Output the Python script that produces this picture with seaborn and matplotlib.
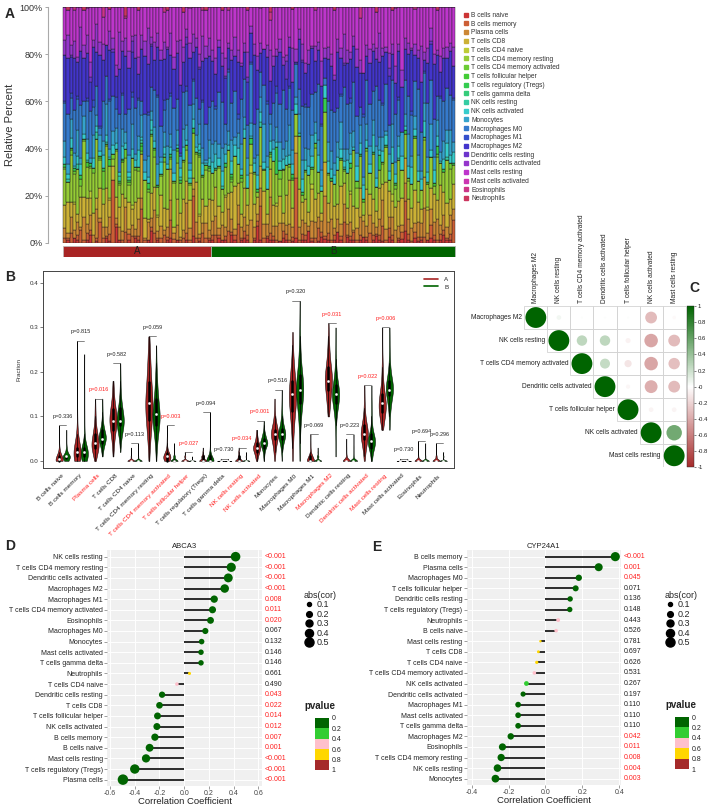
import numpy as np
import pandas as pd
import matplotlib.pyplot as plt
import matplotlib.colors as mcolors
import matplotlib.transforms as mtrans
from matplotlib.lines import Line2D
from matplotlib.patches import Rectangle
from matplotlib.cm import ScalarMappable
import seaborn as sns

# ---------------------------------------------------------------- data
cell_types = [
    "B cells naive", "B cells memory", "Plasma cells", "T cells CD8",
    "T cells CD4 naive", "T cells CD4 memory resting", "T cells CD4 memory activated",
    "T cells follicular helper", "T cells regulatory (Tregs)", "T cells gamma delta",
    "NK cells resting", "NK cells activated", "Monocytes", "Macrophages M0",
    "Macrophages M1", "Macrophages M2", "Dendritic cells resting",
    "Dendritic cells activated", "Mast cells resting", "Mast cells activated",
    "Eosinophils", "Neutrophils",
]
group_names = ["A", "B"]
group_sizes = [46, 76]

# immune cell fractions (%) per sample; first 46 samples group A, then 76 samples group B
b_naive = [0, 1, 0, 2, 1, 0, 0, 1, 3, 0, 1, 0, 0, 2, 1, 0, 8, 1, 0, 0, 1, 0, 2, 1, 0, 0, 1, 5, 0, 1, 0, 0, 1, 2, 0, 1, 0, 0, 1, 0, 3, 0, 1, 0, 0, 1,
           1, 0, 2, 1, 1, 0, 3, 1, 0, 1, 2, 1, 0, 1, 7, 1, 0, 2, 1, 1, 0, 1, 3, 1, 0, 1, 2, 0, 1, 1, 4, 1, 0, 1, 2, 1, 1, 0, 1, 5,
           1, 0, 2, 1, 1, 0, 1, 2, 1, 0, 1, 3, 1, 1, 0, 2, 1, 0, 1, 1, 6, 1, 0, 2, 1, 1, 0, 1, 2, 1, 0, 1, 3, 1, 1, 0]
b_memory = [2, 1, 4, 0, 2, 6, 1, 3, 2, 0, 1, 9, 2, 1, 3, 27, 2, 0, 1, 5, 2, 3, 1, 2, 12, 1, 0, 2, 4, 1, 2, 3, 1, 7, 2, 0, 1, 2, 3, 1, 18, 2, 1, 4, 2, 1,
            2, 3, 1, 0, 2, 5, 1, 2, 8, 1, 3, 2, 0, 1, 2, 14, 2, 1, 3, 2, 1, 0, 4, 2, 1, 2, 24, 1, 3, 2, 0, 1, 2, 6, 2, 1, 3, 1, 2, 0,
            2, 10, 1, 2, 3, 1, 2, 0, 1, 4, 2, 1, 2, 7, 1, 3, 2, 0, 1, 2, 16, 2, 1, 3, 2, 1, 2, 0, 5, 2, 1, 3, 2, 1, 2, 11]
plasma = [4, 2, 7, 3, 5, 1, 9, 4, 6, 3, 14, 2, 5, 4, 8, 0, 3, 6, 4, 11, 2, 5, 3, 7, 4, 1, 6, 4, 10, 3, 5, 2, 4, 8, 3, 6, 1, 4, 12, 5, 3, 7, 2, 4, 6, 3,
          5, 7, 3, 6, 4, 9, 5, 2, 8, 5, 6, 4, 11, 5, 3, 7, 6, 5, 14, 4, 6, 8, 5, 3, 7, 5, 10, 4, 6, 5, 2, 8, 6, 5, 4, 12, 5, 7, 3, 6,
          5, 9, 4, 6, 1, 5, 7, 6, 4, 8, 5, 3, 6, 13, 5, 4, 7, 6, 5, 2, 9, 5, 6, 4, 7, 5, 11, 3, 6, 5, 8, 4, 6, 5, 7, 5]
cd8 = [9, 12, 6, 10, 3, 14, 8, 11, 7, 9, 5, 13, 10, 18, 8, 6, 11, 9, 15, 4, 10, 7, 12, 9, 16, 8, 1, 11, 10, 6, 13, 9, 7, 12, 3, 10, 8, 14, 9, 11, 5, 17, 8, 10, 7, 12,
       8, 11, 9, 5, 13, 7, 10, 16, 9, 6, 12, 8, 22, 10, 7, 9, 14, 4, 11, 9, 8, 13, 6, 10, 19, 9, 7, 12, 8, 10, 5, 15, 9, 11, 3, 10, 8, 13, 9, 7,
       17, 10, 6, 12, 9, 8, 11, 2, 14, 9, 10, 7, 12, 8, 20, 9, 6, 11, 10, 8, 13, 7, 9, 15, 10, 5, 12, 9, 8, 11, 7, 18, 9, 10, 6, 12]
cd4_naive = [0, 0, 0, 1, 0, 0, 0, 0, 3, 0, 0, 0, 0, 0, 1, 0, 0, 0, 0, 0, 0, 2, 0, 0, 0, 0, 0, 0, 0, 1, 0, 0, 0, 0, 0, 0, 0, 0, 0, 0, 0, 0, 1, 0, 0, 0,
             0, 0, 0, 0, 1, 0, 0, 0, 0, 0, 0, 0, 4, 0, 0, 0, 0, 0, 0, 0, 1, 0, 0, 0, 0, 0, 0, 0, 0, 0, 0, 2, 0, 0, 0, 0, 0, 0, 0, 0,
             0, 0, 0, 1, 0, 0, 0, 0, 0, 0, 0, 0, 0, 0, 0, 0, 3, 0, 0, 0, 0, 0, 0, 0, 0, 0, 0, 1, 0, 0, 0, 0, 0, 0, 0, 0]
cd4_resting = [14, 8, 20, 11, 17, 5, 22, 13, 9, 16, 28, 12, 7, 19, 15, 3, 24, 10, 13, 18, 6, 21, 14, 11, 0, 16, 9, 25, 13, 12, 8, 19, 15, 4, 22, 14, 10, 17, 13, 6, 20, 12, 26, 9, 15, 11,
               10, 6, 15, 9, 12, 18, 4, 11, 8, 14, 21, 7, 10, 13, 2, 16, 9, 11, 5, 19, 12, 8, 26, 10, 6, 14, 9, 17, 3, 11, 13, 7, 20, 10, 8, 15, 12, 0, 9, 16,
               11, 6, 13, 10, 22, 8, 12, 5, 14, 9, 18, 11, 7, 10, 15, 4, 12, 9, 17, 8, 13, 6, 11, 24, 10, 7, 14, 9, 12, 3, 16, 10, 8, 19, 11, 9]
cd4_activated = [1, 0, 2, 1, 0, 3, 1, 0, 1, 2, 0, 1, 8, 1, 0, 2, 1, 1, 0, 4, 1, 0, 1, 2, 1, 0, 1, 1, 3, 0, 1, 2, 0, 1, 1, 5, 0, 1, 2, 1, 0, 1, 1, 0, 2, 1,
                 0, 0, 1, 0, 0, 0, 1, 0, 0, 2, 0, 0, 0, 1, 0, 0, 0, 0, 1, 0, 0, 4, 0, 0, 1, 0, 0, 0, 0, 1, 0, 0, 2, 0, 0, 0, 1, 0, 0, 0,
                 0, 1, 0, 0, 0, 3, 0, 0, 1, 0, 0, 0, 0, 1, 0, 0, 0, 2, 0, 0, 0, 1, 0, 0, 0, 0, 1, 0, 0, 0, 1, 0, 0, 0, 2, 0]
tfh = [0, 0, 1, 0, 0, 0, 0, 2, 0, 0, 0, 1, 0, 0, 0, 0, 0, 0, 1, 0, 0, 0, 0, 0, 2, 0, 0, 0, 1, 0, 0, 0, 0, 0, 0, 1, 0, 0, 0, 0, 0, 0, 0, 1, 0, 0,
       0, 0, 0, 0, 0, 0, 1, 0, 0, 0, 0, 0, 0, 0, 0, 0, 0, 0, 0, 0, 0, 0, 0, 0, 0, 1, 0, 0, 0, 0, 0, 0, 0, 0, 0, 0, 0, 0, 0, 0,
       0, 0, 0, 0, 0, 0, 0, 1, 0, 0, 0, 0, 0, 0, 0, 0, 0, 0, 0, 0, 0, 0, 0, 0, 0, 0, 0, 0, 0, 1, 0, 0, 0, 0, 0, 0]
tregs = [1, 0, 0, 1, 0, 2, 0, 0, 1, 0, 0, 0, 1, 0, 3, 0, 0, 1, 0, 0, 1, 0, 0, 0, 1, 0, 2, 0, 0, 1, 0, 0, 0, 1, 0, 0, 1, 0, 0, 0, 2, 0, 1, 0, 0, 1,
         0, 1, 0, 0, 2, 0, 1, 0, 0, 1, 0, 0, 3, 0, 1, 0, 0, 0, 1, 0, 11, 0, 1, 0, 0, 2, 0, 0, 1, 0, 0, 1, 0, 0, 0, 4, 0, 1, 0, 0,
         1, 0, 0, 2, 0, 0, 1, 0, 0, 0, 1, 0, 6, 0, 1, 0, 0, 1, 0, 0, 2, 0, 0, 1, 0, 0, 0, 1, 0, 0, 3, 0, 1, 0, 0, 1]
gamma_delta = [0, 0, 0, 0, 0, 0, 0, 0, 0, 0, 0, 0, 0, 0, 0, 0, 0, 0, 0.5, 0, 0, 0, 0, 0, 0, 0, 0, 0, 0, 0, 0, 0, 0, 0, 0, 0, 0, 0, 0, 0, 0, 0, 0, 0, 0, 0,
               0, 0, 0, 0, 0, 0, 0, 0, 0, 0, 0, 0, 0, 0, 0, 0, 0.5, 0, 0, 0, 0, 0, 0, 0, 0, 0, 0, 0, 0, 0, 0, 0, 0, 0, 0, 0, 0, 0, 0, 0,
               0, 0, 0, 0, 0, 0, 0, 0, 0, 0, 0, 0, 0, 0, 0, 0, 0, 0, 0, 0, 0, 0, 0, 0, 0, 0, 0, 0, 0, 0, 0, 0, 0, 0, 0, 0]
nk_resting = [0, 1, 0, 0, 2, 0, 0, 1, 0, 0, 3, 0, 0, 1, 0, 0, 0, 2, 0, 0, 1, 0, 0, 0, 1, 0, 0, 2, 0, 0, 0, 1, 0, 0, 0, 0, 1, 0, 0, 2, 0, 0, 1, 0, 0, 0,
              0, 0, 0, 1, 0, 0, 0, 0, 0, 0, 0, 0, 0, 0, 0, 2, 0, 0, 0, 0, 0, 0, 0, 0, 0, 0, 0, 1, 0, 0, 0, 0, 0, 0, 0, 0, 0, 0, 0, 0,
              0, 1, 0, 0, 0, 0, 0, 0, 0, 0, 0, 0, 0, 0, 0, 0, 0, 0, 1, 0, 0, 0, 0, 0, 0, 0, 0, 0, 0, 0, 0, 0, 0, 1, 0, 0]
nk_activated = [3, 2, 4, 1, 3, 5, 2, 3, 0, 4, 3, 2, 6, 3, 1, 4, 3, 2, 5, 3, 2, 4, 3, 7, 1, 3, 2, 4, 3, 0, 5, 3, 2, 3, 4, 1, 3, 6, 2, 3, 4, 2, 3, 5, 1, 3,
                4, 5, 3, 6, 4, 2, 5, 4, 7, 3, 4, 5, 1, 4, 6, 4, 3, 9, 4, 5, 2, 4, 6, 3, 4, 5, 4, 0, 6, 4, 3, 5, 4, 8, 2, 4, 5, 3, 4, 6,
                4, 3, 5, 4, 1, 6, 4, 5, 3, 4, 7, 4, 2, 5, 4, 3, 6, 4, 5, 4, 2, 4, 8, 3, 5, 4, 6, 4, 3, 5, 4, 1, 4, 6, 3, 5]
monocytes = [6, 4, 8, 5, 10, 3, 7, 6, 2, 9, 5, 7, 6, 14, 4, 6, 8, 0, 7, 5, 6, 11, 3, 6, 8, 5, 7, 4, 6, 9, 2, 6, 7, 5, 12, 6, 4, 8, 6, 3, 7, 5, 9, 6, 1, 7,
             7, 5, 6, 9, 4, 6, 8, 3, 6, 11, 5, 7, 6, 2, 8, 6, 16, 5, 7, 4, 6, 9, 6, 5, 13, 7, 3, 6, 8, 5, 6, 10, 4, 7, 6, 0, 8, 6, 5, 7,
             12, 6, 4, 9, 6, 5, 7, 3, 6, 8, 6, 14, 5, 7, 2, 6, 9, 6, 4, 7, 6, 11, 5, 6, 8, 3, 7, 6, 10, 5, 6, 4, 7, 6, 9, 5]
macro_m0 = [15, 20, 9, 17, 12, 24, 6, 16, 19, 11, 14, 3, 18, 13, 22, 15, 10, 26, 14, 8, 17, 12, 20, 15, 5, 19, 14, 11, 16, 29, 13, 9, 18, 15, 21, 12, 0, 17, 14, 23, 10, 16, 7, 19, 15, 13,
            16, 12, 21, 18, 9, 25, 14, 17, 6, 20, 16, 13, 28, 15, 19, 10, 17, 22, 4, 16, 14, 18, 36, 11, 16, 20, 13, 8, 24, 17, 15, 19, 12, 26, 16, 2, 18, 14, 21, 16,
            11, 30, 17, 13, 19, 15, 7, 22, 16, 18, 12, 27, 14, 16, 20, 10, 17, 23, 15, 0, 18, 13, 19, 16, 32, 14, 11, 21, 17, 15, 9, 24, 16, 18, 13, 20]
macro_m1 = [1, 0, 2, 0, 1, 0, 0, 1, 0, 3, 0, 1, 0, 0, 1, 0, 6, 0, 1, 0, 0, 2, 0, 1, 0, 0, 1, 0, 0, 1, 0, 4, 0, 1, 0, 0, 1, 0, 2, 0, 1, 0, 0, 1, 0, 0,
            0, 1, 0, 0, 0, 1, 0, 0, 2, 0, 0, 0, 1, 0, 0, 0, 0, 1, 0, 0, 3, 0, 0, 0, 1, 0, 0, 0, 0, 1, 0, 0, 0, 0, 1, 0, 0, 0, 0, 0,
            1, 0, 0, 2, 0, 0, 0, 1, 0, 0, 0, 0, 0, 1, 0, 0, 0, 0, 1, 0, 0, 0, 2, 0, 0, 0, 1, 0, 0, 0, 0, 1, 0, 0, 0, 1]
macro_m2 = [18, 22, 15, 20, 13, 25, 17, 19, 12, 21, 16, 31, 18, 14, 23, 19, 11, 20, 17, 26, 15, 18, 22, 10, 19, 24, 16, 18, 13, 21, 28, 17, 19, 15, 20, 18, 23, 14, 17, 19, 12, 22, 18, 16, 27, 20,
            15, 12, 18, 14, 20, 9, 16, 13, 22, 15, 11, 17, 14, 30, 16, 8, 15, 19, 13, 16, 12, 24, 15, 10, 17, 14, 1, 16, 19, 13, 15, 21, 12, 16, 14, 6, 18, 15, 13, 26,
            16, 11, 15, 17, 14, 20, 13, 15, 9, 18, 16, 12, 15, 23, 14, 17, 10, 15, 19, 13, 16, 14, 28, 12, 15, 18, 4, 16, 14, 21, 15, 11, 17, 13, 16, 15]
dc_resting = [0, 0, 1, 0, 0, 0, 0, 0, 2, 0, 0, 0, 0, 0, 0, 1, 0, 0, 0, 0, 0, 5, 0, 0, 0, 0, 0, 1, 0, 0, 0, 0, 0, 0, 0, 0, 0, 0, 3, 0, 0, 0, 1, 0, 0, 0,
              0, 0, 0, 0, 1, 0, 0, 0, 0, 0, 0, 2, 0, 0, 0, 0, 0, 0, 0, 0, 0, 0, 0, 6, 0, 0, 0, 0, 1, 0, 0, 0, 0, 0, 0, 0, 0, 0, 0, 0,
              0, 1, 0, 0, 0, 0, 0, 0, 0, 0, 0, 0, 0, 0, 0, 3, 0, 0, 0, 0, 0, 0, 0, 0, 0, 0, 0, 0, 1, 0, 0, 0, 0, 0, 0, 0]
dc_activated = [6, 9, 4, 7, 2, 11, 5, 8, 6, 3, 13, 6, 7, 0, 9, 5, 6, 17, 4, 8, 6, 2, 10, 7, 5, 6, 12, 3, 8, 6, 4, 7, 1, 9, 6, 5, 15, 7, 3, 6, 8, 4, 6, 10, 5, 7,
                4, 6, 3, 5, 8, 2, 4, 7, 5, 1, 4, 10, 3, 5, 6, 4, 0, 5, 12, 4, 3, 6, 5, 2, 4, 17, 5, 3, 7, 4, 5, 1, 6, 4, 9, 3, 5, 4, 2, 6,
                4, 14, 5, 3, 4, 7, 5, 0, 4, 6, 3, 5, 11, 4, 2, 5, 4, 8, 3, 5, 6, 4, 1, 5, 4, 13, 3, 6, 5, 4, 2, 7, 4, 5, 3, 9]
mast_resting = [13, 10, 16, 12, 19, 9, 14, 11, 22, 13, 8, 15, 12, 17, 10, 13, 30, 11, 14, 9, 16, 13, 12, 20, 10, 14, 7, 13, 15, 11, 18, 12, 14, 10, 25, 13, 11, 16, 9, 14, 12, 13, 21, 11, 15, 12,
                16, 19, 13, 17, 22, 14, 16, 11, 18, 25, 15, 17, 9, 16, 20, 14, 18, 16, 12, 21, 17, 15, 30, 16, 13, 19, 17, 7, 16, 23, 15, 18, 14, 16, 20, 12, 17, 16, 27, 15,
                18, 13, 16, 19, 11, 17, 16, 24, 14, 18, 15, 16, 10, 20, 17, 16, 13, 28, 15, 18, 16, 12, 19, 16, 21, 14, 17, 16, 8, 18, 15, 22, 16, 17, 13, 19]
mast_activated = [0, 0, 0, 0, 0, 0, 0, 0.5, 0, 0, 0, 0, 0, 0, 0, 0, 0, 0, 0, 0, 0, 0, 0, 0, 0, 0, 0, 0, 0, 0, 0, 0, 0, 0, 0, 0, 0, 0, 0, 0.3, 0, 0, 0, 0, 0, 0,
                  0, 0, 0, 0, 0, 0, 0, 0, 0, 0, 0, 0, 0, 0, 0, 0.3, 0, 0, 0, 0, 0, 0, 0, 0, 0, 0, 0, 0, 0, 0, 0, 0, 0, 0, 0, 0, 0, 0, 0, 0,
                  0, 0, 0, 0, 0, 0, 0, 0, 0, 0, 0, 0, 0, 0, 0, 0, 0, 0.5, 0, 0, 0, 0, 0, 0, 0, 0, 0, 0, 0, 0, 0, 0, 0, 0, 0, 0]
eosinophils = [0, 0, 0, 1, 0, 0, 0, 0, 0, 0, 0, 0, 4.5, 0, 0, 0, 0, 0, 0, 1, 0, 0, 0, 0, 0, 0, 0, 0, 0, 0, 0, 2, 0, 0, 0, 0, 0, 0, 0, 0, 0, 0, 0, 1, 0, 0,
               0, 0, 0, 0, 0, 1, 0, 0, 0, 0, 0, 0, 0, 0, 0, 0, 0, 0, 3, 0, 0, 0, 0, 0, 0, 0, 0, 0, 0, 0, 0, 0, 1, 0, 0, 0, 0, 0, 0, 0,
               0, 0, 0, 0, 0, 0, 4, 0, 0, 0, 0, 0, 0, 0, 0, 0, 0, 0, 0, 0, 0, 0, 0, 1, 0, 0, 0, 0, 0, 0, 0, 0, 0, 0, 0, 0]
neutrophils = [0, 1, 0, 0, 0, 0, 1, 0, 0, 0, 0, 0, 0, 0, 1, 0, 0, 0, 0, 4, 0, 0, 0, 1, 0, 0, 0, 0, 0, 0, 0, 0, 1, 0, 0, 0, 0, 2, 0, 0, 0, 0, 0, 0, 1, 0,
               0, 0, 0, 1, 0, 0, 0, 0, 0, 0, 0, 1, 0, 0, 0, 0, 0, 0, 2, 0, 0, 0, 0, 0, 0, 1, 0, 0, 0, 0, 0, 0, 0, 0, 0, 0, 0, 0, 1, 0,
               0, 0, 0, 0, 0, 0, 0, 0, 0, 0, 0, 2, 0, 0, 0, 0, 1, 0, 0, 0, 0, 0, 0, 0, 0, 0, 0, 0, 0, 0, 1, 0, 0, 0, 0, 0]

cell_values = [b_naive, b_memory, plasma, cd8, cd4_naive, cd4_resting, cd4_activated, tfh,
               tregs, gamma_delta, nk_resting, nk_activated, monocytes, macro_m0, macro_m1,
               macro_m2, dc_resting, dc_activated, mast_resting, mast_activated, eosinophils,
               neutrophils]

# Wilcoxon p-values printed above each violin pair
violin_p = [0.336, 0.815, 0.016, 0.582, 0.113, 0.059, 0.003, 0.027, 0.094, 0.730, 0.034,
            0.001, 0.516, 0.320, 0.069, 0.031, 0.223, 0.022, 0.006, 0.730, 0.694, 0.296]

# correlation matrix (upper triangle rows) of the significant cell types
corr_labels = ["Macrophages M2", "NK cells resting", "T cells CD4 memory activated",
               "Dendritic cells activated", "T cells follicular helper",
               "NK cells activated", "Mast cells resting"]
corr_upper = [
    [1.00, 0.05, 0.01, 0.01, 0.01, -0.32, -0.03],
    [1.00, 0.25, 0.25, -0.06, -0.42, -0.32],
    [1.00, 0.23, -0.12, -0.42, -0.30],
    [1.00, -0.04, -0.38, -0.32],
    [1.00, -0.05, -0.05],
    [1.00, 0.55],
    [1.00],
]

# gene / immune cell correlations
d_gene = "ABCA3"
d_cells = ["NK cells resting", "T cells CD4 memory resting", "Dendritic cells activated",
           "Macrophages M2", "Macrophages M1", "T cells CD4 memory activated", "Eosinophils",
           "Macrophages M0", "Monocytes", "Mast cells activated", "T cells gamma delta",
           "Neutrophils", "T cells CD4 naive", "Dendritic cells resting", "T cells CD8",
           "T cells follicular helper", "NK cells activated", "B cells memory", "B cells naive",
           "Mast cells resting", "T cells regulatory (Tregs)", "Plasma cells"]
d_cor = [0.416, 0.381, 0.357, 0.328, 0.243, 0.229, 0.213, 0.171, 0.141, 0.136, 0.136, 0.043,
         -0.059, -0.179, -0.200, -0.216, -0.221, -0.237, -0.280, -0.309, -0.400, -0.496]
d_p = ["<0.001", "<0.001", "<0.001", "<0.001", "0.008", "0.011", "0.020", "0.067", "0.132",
       "0.146", "0.146", "0.661", "0.490", "0.043", "0.022", "0.014", "0.012", "0.007",
       "0.001", "<0.001", "<0.001", "<0.001"]

e_gene = "CYP24A1"
e_cells = ["B cells memory", "Plasma cells", "Macrophages M0", "T cells follicular helper",
           "Dendritic cells resting", "T cells regulatory (Tregs)", "Neutrophils", "B cells naive",
           "Mast cells resting", "T cells CD8", "T cells CD4 naive", "T cells CD4 memory activated",
           "NK cells activated", "Dendritic cells activated", "Macrophages M1",
           "Mast cells activated", "T cells gamma delta", "Macrophages M2", "Eosinophils",
           "T cells CD4 memory resting", "NK cells resting", "Monocytes"]
e_cor = [0.379, 0.289, 0.181, 0.164, 0.134, 0.132, 0.069, 0.058, -0.027, -0.038, -0.047, -0.060,
         -0.103, -0.121, -0.148, -0.148, -0.148, -0.188, -0.233, -0.240, -0.260, -0.271]
e_p = ["<0.001", "0.001", "0.045", "0.071", "0.136", "0.148", "0.443", "0.526", "0.781",
       "0.697", "0.626", "0.531", "0.267", "0.197", "0.110", "0.110", "0.110", "0.042",
       "0.011", "0.008", "0.004", "0.003"]

p_bins = [0, 0.2, 0.4, 0.6, 0.8, 1.0]
p_colors = ["#006400", "#32CD32", "#FFC0CB", "#FFD700", "#A52A2A"]
abs_breaks = [0.1, 0.2, 0.3, 0.4, 0.5]

# ---------------------------------------------------------------- style
sns.set_theme(style="white")
plt.rcParams["font.family"] = ["Liberation Sans", "DejaVu Sans"]
plt.rcParams["axes.unicode_minus"] = False

RED, GREEN = "#A82424", "#006400"
SIG_RED = "#FF2020"
TXT = "#333333"
# rainbow palette for the 22 cell types
cell_colors = [mcolors.hsv_to_rgb((h, 0.74, 0.80)) for h in np.arange(22) / 22]

W, H = 708, 807
fig = plt.figure(figsize=(W / 100, H / 100), dpi=100)


def px_axes(left, top, right, bottom):
    return fig.add_axes([left / W, 1 - bottom / H, (right - left) / W, (bottom - top) / H])


frac = pd.DataFrame(dict(zip(cell_types, cell_values)))
groups = np.repeat(group_names, group_sizes)
n_samp = len(frac)

# ---------------------------------------------------------------- A: stacked bars
rel = frac.div(frac.sum(axis=1), axis=0)
axA = px_axes(48, 7.3, 457, 242.7)
base = np.zeros(n_samp)
for ct, col in zip(cell_types, cell_colors):
    axA.bar(np.arange(n_samp), rel[ct], bottom=base, width=1.0, color=col,
            edgecolor="#1e1e1e", linewidth=0.3)
    base += rel[ct].values
axA.set_xlim(-5.2, n_samp + 0.1)
axA.set_ylim(0, 1)
axA.set_xticks([])
axA.set_yticks(np.linspace(0, 1, 6))
axA.set_yticklabels([f"{int(v * 100)}%" for v in np.linspace(0, 1, 6)], fontsize=6.5, color=TXT)
axA.tick_params(axis="y", length=2.5, width=0.6, color="#999999", pad=1.5, left=True)
axA.set_ylabel("Relative Percent", fontsize=8, color=TXT, labelpad=3)
for s in ["top", "right", "bottom"]:
    axA.spines[s].set_visible(False)
axA.spines["left"].set_color("#aaaaaa")
axA.spines["left"].set_linewidth(0.8)

axS = px_axes(48, 246, 457, 257)
start = -0.5
for g, nsz, col in zip(group_names, group_sizes, [RED, GREEN]):
    axS.barh(0, nsz, left=start, height=1, color=col, edgecolor="#bbbbbb", linewidth=0.5)
    axS.text(start + nsz / 2, 0, g, ha="center", va="center", fontsize=7, color="#222222")
    start += nsz
axS.set_xlim(axA.get_xlim())
axS.set_ylim(-0.5, 0.5)
axS.axis("off")

legA = [Line2D([], [], marker="s", ls="none", color=c, markersize=2.6) for c in cell_colors]
fig.legend(legA, cell_types, loc="upper left", bbox_to_anchor=(464 / W, 1 - 12 / H),
           frameon=False, fontsize=4.8, labelspacing=0.26, handlelength=0.6,
           handletextpad=0.5, borderpad=0, borderaxespad=0, labelcolor=TXT)

# ---------------------------------------------------------------- B: violins
long = frac.assign(group=groups).melt(id_vars="group", var_name="cell", value_name="fraction")
long["fraction"] = long["fraction"] / 100
axB = px_axes(43, 271, 454, 468)
sns.violinplot(data=long, x="cell", y="fraction", hue="group", order=cell_types,
               hue_order=group_names, palette={"A": RED, "B": GREEN}, cut=0,
               density_norm="width", width=0.8, inner="box", linecolor="black",
               linewidth=0.35, saturation=1, legend=False, ax=axB,
               inner_kws=dict(box_width=1.8, whis_width=0.5, marker="o"))
top = long.groupby("cell")["fraction"].max().reindex(cell_types)
for i, (ct, p) in enumerate(zip(cell_types, violin_p)):
    c = SIG_RED if p < 0.05 else "#222222"
    axB.plot([i - 0.2, i + 0.2], [top[ct], top[ct]], color="#555555", lw=0.5)
    axB.text(i, top[ct] + 0.02, f"p={p:.3f}", ha="center", va="center", fontsize=4.0, color=c)
axB.set_xlim(-1.1, 21.8)
axB.set_ylim(-0.016, 0.427)
axB.set_yticks([0, 0.1, 0.2, 0.3, 0.4])
axB.set_yticklabels(["0.0", "0.1", "0.2", "0.3", "0.4"], fontsize=4.5, color=TXT)
axB.set_xticks(range(len(cell_types)))
axB.set_xticklabels(cell_types, rotation=45, ha="right", va="center",
                    rotation_mode="anchor", fontsize=4.6)
for lab, p in zip(axB.get_xticklabels(), violin_p):
    lab.set_color(SIG_RED if p < 0.05 else "#222222")
axB.tick_params(axis="x", length=0, pad=5)
axB.tick_params(axis="y", length=2, width=0.5, pad=1.5, left=True, color="#444444")
axB.set_xlabel("")
axB.set_ylabel("Fraction", fontsize=4.6, color=TXT, labelpad=6)
for s in axB.spines.values():
    s.set_color("#444444")
    s.set_linewidth(0.7)
legB = [Line2D([], [], color=c, lw=1.2) for c in [RED, GREEN]]
axB.legend(legB, group_names, loc="upper right", frameon=False, fontsize=4.5,
           handlelength=2.2, handletextpad=1.0, labelspacing=0.35,
           bbox_to_anchor=(1.0, 1.0))

# ---------------------------------------------------------------- C: correlation circles
rows = []
for i, row in enumerate(corr_upper):
    for k, r in enumerate(row):
        rows.append(dict(xc=i + k + 0.5, yc=i + 0.5, r=r, absr=abs(r)))
dfc = pd.DataFrame(rows)
cmap_c = mcolors.LinearSegmentedColormap.from_list("rg", ["#A52A2A", "white", "#006400"])
axC = px_axes(524.3, 306, 685.7, 467.3)
for _, rw in dfc.iterrows():
    axC.add_patch(Rectangle((rw.xc - 0.5, rw.yc - 0.5), 1, 1, fill=False,
                            ec="#d3d3d3", lw=0.6))
sns.scatterplot(data=dfc, x="xc", y="yc", hue="r", palette=cmap_c, hue_norm=(-1, 1),
                size="absr", sizes=(0, 225), size_norm=(0, 1), legend=False,
                linewidth=0, ax=axC)
n_c = len(corr_labels)
for i, lab in enumerate(corr_labels):
    axC.text(i - 0.08, i + 0.5, lab, ha="right", va="center", fontsize=4.8, color="#222222")
    axC.text(i + 0.5, -0.12, lab, ha="center", va="bottom", rotation=90, fontsize=4.8,
             color="#222222")
axC.set_xlim(0, n_c)
axC.set_ylim(n_c, 0)
axC.axis("off")
caxC = px_axes(686.5, 306, 694, 467.3)
cb = fig.colorbar(ScalarMappable(norm=mcolors.Normalize(-1, 1), cmap=cmap_c), cax=caxC,
                  ticks=np.round(np.arange(-1, 1.01, 0.2), 1))
cb.ax.set_yticklabels([f"{v:g}" for v in np.round(np.arange(-1, 1.01, 0.2), 1)])
cb.ax.tick_params(labelsize=4.3, length=1.5, width=0.4, pad=1, colors="#222222")
cb.outline.set_linewidth(0.3)


# ---------------------------------------------------------------- D / E: lollipops
def lollipop(ax, cells, cors, plabels, gene, xlim, xticks):
    pos = np.arange(len(cells))
    pnum = [0.0 if s.startswith("<") else float(s) for s in plabels]
    df = pd.DataFrame(dict(cell=cells, cor=cors, pos=pos, absr=np.abs(cors),
                           pbin=pd.cut(pnum, p_bins, labels=p_colors, include_lowest=True)))
    ax.set_facecolor("#F0F0F0")
    for x in xticks:
        ax.axvline(x, color="white", lw=0.7, zorder=0)
    for y in pos:
        ax.axhline(y, color="white", lw=0.7, zorder=0)
    ax.hlines(df["pos"], 0, df["cor"], color="#1c1c1c", lw=1.3, zorder=2)
    sns.scatterplot(data=df, x="cor", y="pos", hue="pbin",
                    palette={c: c for c in p_colors}, size="absr", sizes=(0, 115 * 0.5),
                    size_norm=(0, 0.5), legend=False, linewidth=0, zorder=3, ax=ax)
    tr = mtrans.blended_transform_factory(ax.transAxes, ax.transData)
    for y, s, p in zip(pos, plabels, pnum):
        ax.text(1.02, y, s, transform=tr, ha="left", va="center", fontsize=5,
                color=SIG_RED if p < 0.05 else "#222222")
    ax.set_xlim(*xlim)
    ax.set_ylim(len(cells) - 0.4, -0.6)
    ax.set_yticks(pos)
    ax.set_yticklabels(cells, fontsize=5, color="#222222")
    ax.set_xticks(xticks)
    ax.set_xticklabels([f"{v:.1f}" for v in xticks], fontsize=5, color="#444444")
    ax.tick_params(length=2, width=0.4, color="#555555", pad=1, left=True, bottom=True)
    ax.set_xlabel("Correlation Coefficient", fontsize=6.8, color="#222222", labelpad=0)
    ax.set_ylabel("")
    ax.set_title(gene, fontsize=5.5, color="#222222", pad=2)
    for s in ax.spines.values():
        s.set_visible(False)


def side_legends(x_title, y_title, x_bar, y_bar_top, y_bar_bot, y_ptitle):
    hd = [Line2D([], [], marker="o", ls="none", color="black", markersize=np.sqrt(85 * v))
          for v in abs_breaks]
    leg = fig.legend(hd, [f"{v:g}" for v in abs_breaks], title="abs(cor)", loc="upper left",
                     bbox_to_anchor=(x_title / W, 1 - y_title / H), frameon=False,
                     fontsize=6.5, title_fontsize=6.5, labelspacing=0.05,
                     handletextpad=0.2, handlelength=1.2, borderpad=0, borderaxespad=0)
    leg._legend_box.align = "left"
    fig.text(x_title / W, 1 - y_ptitle / H, "pvalue", fontsize=7, fontweight="bold",
             ha="left", va="center", color="#222222")
    cax = px_axes(x_bar, y_bar_top, x_bar + 14, y_bar_bot)
    cbp = fig.colorbar(ScalarMappable(norm=mcolors.BoundaryNorm(p_bins, len(p_colors)),
                                      cmap=mcolors.ListedColormap(p_colors)),
                       cax=cax, ticks=p_bins)
    cbp.ax.invert_yaxis()
    cbp.ax.set_yticklabels([f"{v:g}" for v in p_bins])
    cbp.ax.tick_params(labelsize=5, length=0, pad=2, colors="#222222")
    cbp.outline.set_visible(False)


axD = px_axes(107, 550.3, 262, 786)
lollipop(axD, d_cells, d_cor, d_p, d_gene, (-0.625, 0.63), [-0.6, -0.4, -0.2, 0.0, 0.2, 0.4, 0.6])
side_legends(304, 591, 315, 718, 770, 706)

axE = px_axes(466.7, 550.3, 621, 785)
lollipop(axE, e_cells, e_cor, e_p, e_gene, (-0.427, 0.41), [-0.4, -0.2, 0.0, 0.2, 0.4])
side_legends(665, 591, 675, 717, 769, 705)

# ---------------------------------------------------------------- panel letters
for lab, x, y in [("A", 5, 14), ("B", 5, 277), ("C", 689, 288), ("D", 5, 546), ("E", 372, 547)]:
    fig.text(x / W, 1 - y / H, lab, fontsize=10, fontweight="bold", ha="left", va="center")

fig.savefig("out.png", dpi=100)
